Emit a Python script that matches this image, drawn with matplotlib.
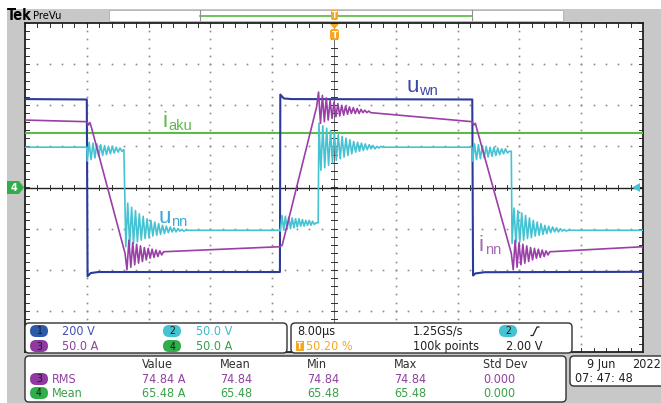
import matplotlib
matplotlib.use("Agg")
import matplotlib.pyplot as plt
from matplotlib.patches import FancyBboxPatch, Rectangle, Polygon
import numpy as np

# ---------------- data ----------------
# time axis: 8 us/div, 10 div, trigger at centre
t_range = [-40.0, 40.0]
# channel scales (per division)
scale_uwn = 200.0   # ch1, V/div
scale_unn = 50.0    # ch2, V/div
scale_inn = 50.0    # ch3, A/div
scale_iaku = 50.0   # ch4, A/div

# ch1  u_wn  (V)
uwn_t = [-40.0, -32.0, -31.9, -31.5, -30.5, -7.0, -6.95, -6.5, -5.5, 17.9, 18.0, 18.3, 19.5, 40.0]
uwn_v = [430, 428, -432, -416, -411, -411, 452, 433, 430, 428, -428, -418, -412, -410]

# ch4  i_aku (A)
iaku_t = [-40.0, 40.0]
iaku_v = [66.0, 66.0]

# ch2  u_nn (V): plain breakpoints + ringing bursts (start, half period, level, deviations)
unn_pre_t = [-40.0, -32.0]
unn_pre_v = [49.0, 49.0]
unn_ring1 = (-31.95, 0.25, 46.0, [-14, 9, -12, 8, -10, 7, -8, 6, -7, 5, -6, 4, -5, 4, -4, 3, -3, 2, -2, 0])
unn_drop1 = (-26.95, 0.25, -52.0, [-20, 33, -18, 28, -16, 24, -14, 20, -12, 17, -10, 14, -9, 12, -7, 10,
                                   -6, 8, -5, 6, -4, 5, -3, 4, -2, 3, -2, 2, -1, 1, -1, 0])
unn_mid1_t = [-7.05]
unn_mid1_v = [-52.0]
unn_ring2 = (-6.95, 0.22, -43.0, [-10, 9, -9, 8, -8, 7, -7, 6, -6, 5, -5, 5, -4, 4, -4, 3, -3, 3, -3, 2, -2, 0])
unn_mid2_t = [-2.05]
unn_mid2_v = [-43.0]
unn_rise = (-1.95, 0.25, 49.0, [29, -28, 26, -25, 23, -22, 20, -19, 17, -16, 15, -14, 13, -12, 11, -10,
                                9, -8, 7, -6, 6, -5, 5, -4, 4, -3, 3, -2, 2, -2, 1, -1, 1, 0])
unn_mid3_t = [17.85]
unn_mid3_v = [49.0]
unn_ring3 = (17.95, 0.25, 44.0, [-12, 9, -10, 8, -9, 7, -8, 6, -7, 5, -6, 5, -5, 4, -4, 3, -3, 3, -2, 0])
unn_mid4_t = [22.95]
unn_mid4_v = [44.0]
unn_drop2 = (23.05, 0.25, -52.0, [-16, 27, -15, 24, -14, 21, -12, 18, -10, 15, -9, 12, -7, 10, -6, 8,
                                  -5, 6, -4, 5, -3, 4, -2, 3, -2, 2, -1, 1, -1, 0])
unn_end_t = [40.0]
unn_end_v = [-52.0]

# ch3  i_nn (A)
inn_a_t = [-40.0, -32.0, -31.8, -31.6, -31.4]
inn_a_v = [82, 80, 76, 79, 73]
inn_low1 = (-27.05, 0.25, -79.0, [-1, -21, 15, -18, 12, -15, 10, -13, 8, -11, 6, -9, 5, -7, 4, -6, 3, -5, 2, -3, 1, 1])
inn_b_t = [-7.0, -6.7]
inn_b_v = [-72, -70]
inn_high = (-2.25, 0.25, 97.0, [1, 19, -19, 15, -17, 12, -15, 9, -13, 7, -11, 5, -10, 3, -9, 2, -8, 1,
                                -7, 0, -7, -1, -7, -2, -6, -3, -6, -4, -6])
inn_c_t = [17.9, 18.1, 18.3, 18.5]
inn_c_v = [80, 76, 78, 71]
inn_low2 = (22.95, 0.25, -79.0, [-1, -21, 15, -18, 12, -15, 10, -13, 8, -11, 6, -9, 5, -7, 4, -6, 3, -5, 2, -3, 1, 1])
inn_end_t = [40.0]
inn_end_v = [-72]

# readouts
ch_scales = ["200 V", "50.0 V", "50.0 A", "50.0 A"]
meas_header = ["Value", "Mean", "Min", "Max", "Std Dev"]
meas_rms = ["74.84 A", "74.84", "74.84", "74.84", "0.000"]
meas_mean = ["65.48 A", "65.48", "65.48", "65.48", "0.000"]

# ---------------- helpers ----------------
def burst(b):
    t0, half, lvl, devs = b
    ts = [t0 + k * half for k in range(len(devs))]
    vs = [lvl + d for d in devs]
    return ts, vs

def build(parts):
    T, V = [], []
    for p in parts:
        if len(p) == 4:
            ts, vs = burst(p)
        else:
            ts, vs = p
        T += list(ts)
        V += list(vs)
    return np.array(T), np.array(V, dtype=float)

unn_T, unn_V = build([(unn_pre_t, unn_pre_v), unn_ring1, unn_drop1, (unn_mid1_t, unn_mid1_v), unn_ring2,
                      (unn_mid2_t, unn_mid2_v), unn_rise, (unn_mid3_t, unn_mid3_v), unn_ring3,
                      (unn_mid4_t, unn_mid4_v), unn_drop2, (unn_end_t, unn_end_v)])
inn_T, inn_V = build([(inn_a_t, inn_a_v), inn_low1, (inn_b_t, inn_b_v), inn_high,
                      (inn_c_t, inn_c_v), inn_low2, (inn_end_t, inn_end_v)])

# ---------------- figure ----------------
W, H = 661, 403
fig = plt.figure(figsize=(W / 100, H / 100), dpi=100)
fig.patch.set_facecolor("white")

NARROW = ["DejaVu Sans"]
STRETCH = "condensed"

def rtext(ax, x, y, s, **kw):
    kw.setdefault("family", NARROW)
    kw.setdefault("fontstretch", STRETCH)
    return ax.text(x, y, s, **kw)

# background / frame (pixel coordinates)
bg = fig.add_axes([0, 0, 1, 1], zorder=0)
bg.set_xlim(0, W); bg.set_ylim(H, 0); bg.axis("off")
GREY = "#c8c8c8"
bg.add_patch(Rectangle((7, 9), W - 7, H - 9, facecolor=GREY, edgecolor="none"))
# record view box
bg.add_patch(Rectangle((109, 9.5), 454, 11, facecolor="white", edgecolor="#b0b0b0", lw=0.6))
bg.plot([200, 472], [15.5, 15.5], color="#58b848", lw=1.2)
bg.plot([200, 200], [10, 20], color="#909090", lw=0.8)
bg.plot([472, 472], [10, 20], color="#909090", lw=0.8)
rtext(bg, 7, 16, "Tek", fontsize=10.5, fontweight="bold", va="center", ha="left")
rtext(bg, 33, 16, "PreVu", fontsize=8, va="center", ha="left")

# graticule axes
gx0, gx1, gy0, gy1 = 25, 643, 23, 352
ga = fig.add_axes([gx0 / W, 1 - gy1 / H, (gx1 - gx0) / W, (gy1 - gy0) / H], zorder=1)
ga.set_xlim(*t_range); ga.set_ylim(-4, 4)
ga.set_facecolor("white")
ga.set_xticks([]); ga.set_yticks([])
for s in ga.spines.values():
    s.set_color("#202020"); s.set_linewidth(1.3)

dotc = "#8a8a8a"
minor_t = np.arange(-40, 40.01, 1.6)
minor_y = np.arange(-4, 4.01, 0.2)
for k in range(-4, 5):
    if k == 0:
        continue
    xv = k * 8.0
    ga.plot(np.full_like(minor_y, xv), minor_y, ls="none", marker="s", ms=1.2, color=dotc, mec="none")
for k in range(-3, 4):
    if k == 0:
        continue
    ga.plot(minor_t, np.full_like(minor_t, float(k)), ls="none", marker="s", ms=1.2, color=dotc, mec="none")
# centre axes
ga.axhline(0, color="#202020", lw=1.0)
ga.axvline(0, color="#555555", lw=0.6)
# ticks on centre axes and borders
for xv in minor_t:
    ga.plot([xv, xv], [-0.07, 0.07], color="#303030", lw=0.7)
    ga.plot([xv, xv], [4 - 0.1, 4], color="#303030", lw=0.7)
    ga.plot([xv, xv], [-4, -4 + 0.1], color="#303030", lw=0.7)
for yv in minor_y:
    ga.plot([-0.35, 0.35], [yv, yv], color="#303030", lw=0.7)
    ga.plot([-40, -39.5], [yv, yv], color="#303030", lw=0.7)
    ga.plot([39.5, 40], [yv, yv], color="#303030", lw=0.7)

C_UWN = "#2c3a9c"
C_UNN = "#45c3d3"
C_INN = "#9b3fa8"
C_IAKU = "#5cba4a"

ga.plot(iaku_t, np.array(iaku_v) / scale_iaku, color=C_IAKU, lw=1.5, zorder=3)
ga.plot(uwn_t, np.array(uwn_v) / scale_uwn, color=C_UWN, lw=1.5, zorder=4)
ga.plot(unn_T, unn_V / scale_unn, color=C_UNN, lw=1.2, zorder=5)
ga.plot(inn_T, inn_V / scale_inn, color=C_INN, lw=1.2, zorder=6)

# overlay (pixel coordinates) for markers, labels and readout panels
ov = fig.add_axes([0, 0, 1, 1], zorder=2)
ov.set_xlim(0, W); ov.set_ylim(H, 0); ov.axis("off")
ov.patch.set_alpha(0)

ORANGE = "#f5a623"
# trigger position marker
ov.add_patch(FancyBboxPatch((330, 29), 9, 11, boxstyle="round,pad=0,rounding_size=2.5",
                            facecolor=ORANGE, edgecolor="none"))
ov.add_patch(Polygon([[330, 24], [339, 24], [334.5, 29]], closed=True, facecolor=ORANGE, edgecolor="none"))
ov.text(334.5, 35, "T", color="white", fontsize=6.5, fontweight="bold", ha="center", va="center")
ov.add_patch(FancyBboxPatch((331, 10), 7, 10, boxstyle="round,pad=0,rounding_size=2",
                            facecolor=ORANGE, edgecolor="none"))
ov.text(334.5, 15.5, "T", color="white", fontsize=5.5, fontweight="bold", ha="center", va="center")
# channel 4 ground marker
ov.add_patch(Polygon([[7, 181], [19, 181], [24, 187.5], [19, 194], [7, 194]], closed=True,
                     facecolor="#2fae4a", edgecolor="none"))
ov.text(14, 187.8, "4", color="white", fontsize=7, fontweight="bold", ha="center", va="center")
# trigger level arrow (right)
ov.add_patch(Polygon([[632, 187.5], [640, 183], [640, 192]], closed=True, facecolor=C_UNN, edgecolor="none"))

# trace labels
def sublabel(x, y, main, sub, color, fs=16, sfs=10.5, dx=0):
    ov.text(x, y, main, color=color, fontsize=fs, ha="left", va="baseline", family=["Liberation Sans", "DejaVu Sans"])
    ov.text(x + dx, y + 3, sub, color=color, fontsize=sfs, ha="left", va="baseline", family=["Liberation Sans", "DejaVu Sans"])

sublabel(407, 92, "u", "wn", "#3a48a8", dx=12)
sublabel(162, 127, "i", "aku", "#5cba4a", dx=6)
sublabel(159, 223, "u", "nn", "#3aa8d8", dx=12)
sublabel(479, 251, "i", "nn", "#a26cb4", dx=6)

# readout panels
def panel(x, y, w, h):
    ov.add_patch(FancyBboxPatch((x, y), w, h, boxstyle="round,pad=0,rounding_size=4",
                                facecolor="white", edgecolor="#303030", lw=1.0))

def badge(cx, cy, num, color):
    ov.add_patch(FancyBboxPatch((cx - 9, cy - 6), 18, 12, boxstyle="round,pad=0,rounding_size=6",
                                facecolor=color, edgecolor="none"))
    rtext(ov, cx, cy + 0.5, num, color="#1a1a1a", fontsize=7.5, ha="center", va="center")

B1, B2, B3, B4 = "#2a5aa8", "#45c3d3", "#8e3aa0", "#2fae4a"
T1, T2, T3, T4 = "#4050b0", "#40b8c8", "#9040a0", "#3aa048"
FS = 9

panel(25, 323, 262, 30)
badge(39, 331, "1", B1); rtext(ov, 62, 331.5, ch_scales[0], color=T1, fontsize=FS, va="center")
badge(39, 346, "3", B3); rtext(ov, 62, 346.5, ch_scales[2], color=T3, fontsize=FS, va="center")
badge(172, 331, "2", B2); rtext(ov, 196, 331.5, ch_scales[1], color=T2, fontsize=FS, va="center")
badge(172, 346, "4", B4); rtext(ov, 196, 346.5, ch_scales[3], color=T4, fontsize=FS, va="center")

panel(291, 323, 281, 30)
rtext(ov, 297, 331.5, "8.00\u00b5s", color="#202020", fontsize=FS, va="center")
rtext(ov, 413, 331.5, "1.25GS/s", color="#202020", fontsize=FS, va="center")
badge(508, 331, "2", B2)
ov.plot([531, 533, 537, 539], [335.5, 335.5, 327, 327], color="#202020", lw=0.9)
ov.add_patch(Rectangle((296, 341), 8, 10, facecolor=ORANGE, edgecolor="none"))
ov.text(300, 346.3, "T", color="white", fontsize=5.5, fontweight="bold", ha="center", va="center")
rtext(ov, 306, 346.5, "50.20 %", color=ORANGE, fontsize=FS, va="center")
rtext(ov, 413, 346.5, "100k points", color="#202020", fontsize=FS, va="center")
rtext(ov, 543, 346.5, "2.00 V", color="#202020", fontsize=FS, va="center", ha="right")

panel(25, 356, 541, 46)
xs = [142, 220, 307, 394, 483]
for x, s in zip(xs, meas_header):
    rtext(ov, x, 365, s, color="#303030", fontsize=FS, va="center")
badge(39, 379, "3", B3); rtext(ov, 52, 379.5, "RMS", color=T3, fontsize=FS, va="center")
badge(39, 393, "4", B4); rtext(ov, 52, 393.5, "Mean", color=T4, fontsize=FS, va="center")
for x, s in zip(xs, meas_rms):
    rtext(ov, x, 379.5, s, color=T3, fontsize=FS, va="center")
for x, s in zip(xs, meas_mean):
    rtext(ov, x, 393.5, s, color=T4, fontsize=FS, va="center")

panel(570, 356, 100, 30)
rtext(ov, 587, 364.5, "9 Jun", color="#202020", fontsize=FS, va="center")
rtext(ov, 632, 364.5, "2022", color="#202020", fontsize=FS, va="center")
rtext(ov, 575, 378.5, "07: 47: 48", color="#202020", fontsize=FS, va="center")

fig.savefig("out.png", dpi=100)
